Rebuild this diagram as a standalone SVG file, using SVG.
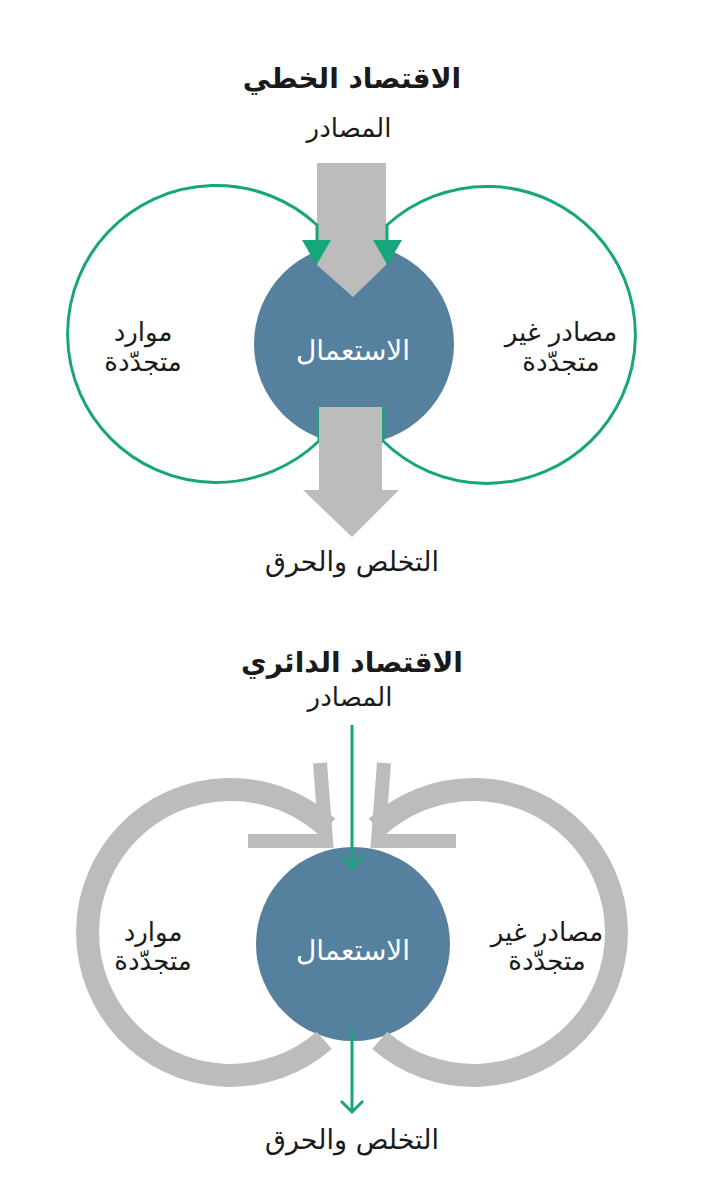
<svg xmlns="http://www.w3.org/2000/svg" width="701" height="1200" viewBox="0 0 701 1200">
<defs>
<style>
text{font-family:"DejaVu Sans","Noto Sans",sans-serif;text-anchor:middle;fill:#1a1a1a}
.title{font-size:28px;font-weight:bold}
.lbl{font-size:26px}
.sink{font-size:27px}
.in{fill:#ffffff;font-size:28px}
.green{fill:none;stroke:#17a67b;stroke-width:3}
.gfill{fill:#17a67b}
.gray{fill:#bcbcbc}
.ring{fill:none;stroke:#bcbcbc;stroke-width:23}
.chev{fill:none;stroke:#bcbcbc;stroke-width:14;stroke-linejoin:miter}
.node{fill:#55809e}
</style>
</defs>
<rect width="701" height="1200" fill="#ffffff"/>

<!-- Linear economy -->
<g id="linear">
<text class="title" x="352" y="88">الاقتصاد الخطي</text>
<g id="lin-source"><text class="lbl" x="349" y="137">المصادر</text></g>
<g id="lin-use">
<circle class="node" cx="354" cy="344" r="100"/>
</g>
<g id="lin-renew"><text class="lbl" x="143" y="341">موارد</text><text class="lbl" x="143" y="371">متجدّدة</text></g>
<g id="lin-nonrenew"><text class="lbl" x="561" y="341">مصادر غير</text><text class="lbl" x="561" y="371">متجدّدة</text></g>
<g id="lin-connectors">
<path class="gray" d="M317,163 H386 V265 L353,297 L317,265 Z"/>
<path class="green" d="M317,225 A148.5,148.5 0 1 0 319,441 V407"/>
<path class="green" d="M387,225 A148.5,148.5 0 1 1 383,441 V407"/>
<path class="green" d="M317,224 V242"/>
<path class="green" d="M387,224 V242"/>
<path class="gfill" d="M302,240 H331 L316.5,265 Z"/>
<path class="gfill" d="M373,240 H402 L387.5,265 Z"/>
<path class="gray" d="M319,407 H382 V490 H399 L352,537 L303,490 H319 Z"/>
</g>
<text class="in" x="353" y="360">الاستعمال</text>
<g id="lin-sink"><text class="lbl sink" x="352" y="571">التخلص والحرق</text></g>
</g>

<!-- Circular economy -->
<g id="circular">
<text class="title" x="352" y="672">الاقتصاد الدائري</text>
<g id="circ-source"><text class="lbl" x="350" y="706">المصادر</text></g>
<g id="circ-use"><circle class="node" cx="353" cy="944" r="97"/></g>
<g id="circ-renew"><text class="lbl" x="153" y="941">موارد</text><text class="lbl" x="153" y="970">متجدّدة</text></g>
<g id="circ-nonrenew"><text class="lbl" x="547" y="941">مصادر غير</text><text class="lbl" x="547" y="970">متجدّدة</text></g>
<g id="circ-connectors">
<path class="ring" d="M324.3,1040.4 A143,143 0 1 1 327.5,827.3"/>
<path class="chev" d="M320,763 L326,841 H248"/>
<path class="ring" d="M379.7,1040.4 A143,143 0 1 0 376.5,827.3"/>
<path class="chev" d="M384,763 L378,841 H456"/>
<path class="green" d="M352,725 V867 M341,856 L352,867 L363,856"/>
<path class="green" d="M352,1028 V1112 M341,1101 L352,1112 L363,1101"/>
</g>
<text class="in" x="353" y="960">الاستعمال</text>
<g id="circ-sink"><text class="lbl sink" x="352" y="1149">التخلص والحرق</text></g>
</g>
</svg>
